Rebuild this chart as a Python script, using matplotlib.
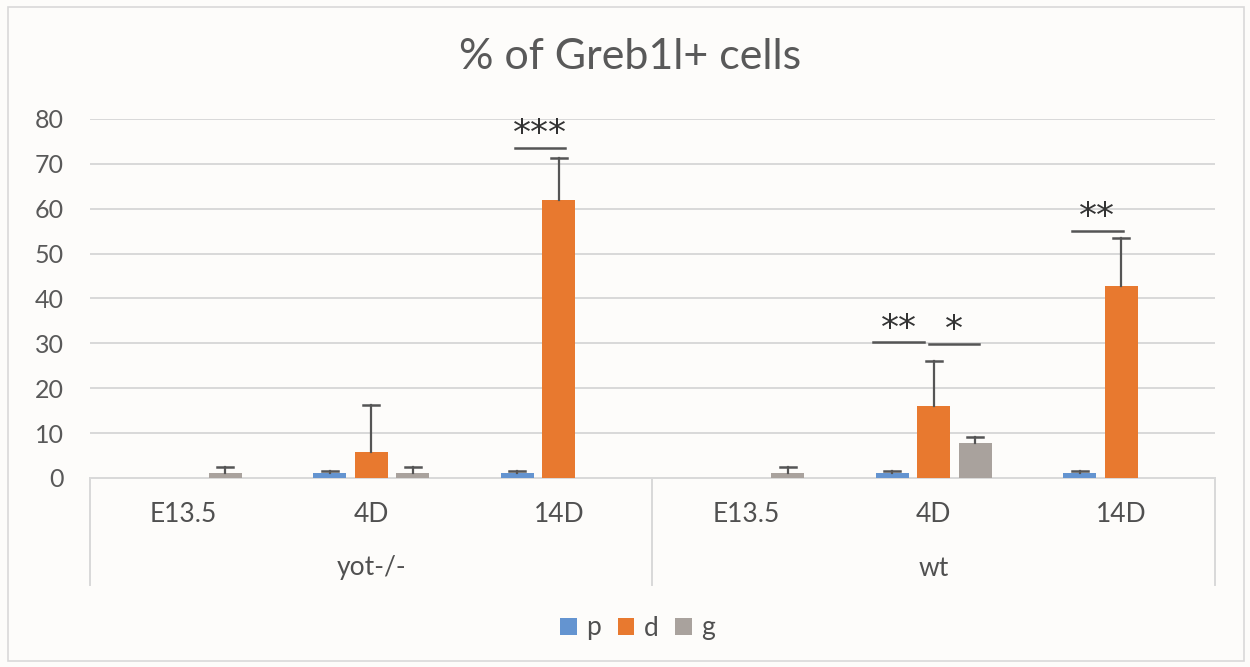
import numpy as np
import matplotlib.pyplot as plt
from matplotlib.patches import Rectangle

plt.rcParams['font.family'] = ['Lato', 'DejaVu Sans']

# data
groups = ["yot-/-", "wt"]
stages = ["E13.5", "4D", "14D", "E13.5", "4D", "14D"]
series = ["p", "d", "g"]
p_vals = [0, 1.0, 1.0, 0, 1.0, 1.0]
p_err = [0, 0.55, 0.55, 0, 0.55, 0.55]
d_vals = [0, 5.85, 62.0, 0, 16.1, 42.7]
d_err = [0, 10.5, 9.2, 0, 10.0, 10.7]
g_vals = [1.05, 1.05, 0, 1.05, 7.85, 0]
g_err = [1.35, 1.35, 0, 1.35, 1.35, 0]
colors = ["#6494D0", "#E8792F", "#A9A29D"]
# significance marks: category, x offset, line height, label
sig_cat = [2, 4, 4, 5]
sig_off = [-0.10, -0.187, 0.107, -0.128]
sig_y = [73.6, 30.2, 29.9, 55.1]
sig_lab = ["***", "**", "*", "**"]

x = np.arange(6)
w = 0.176
off = 0.221

fig = plt.figure(figsize=(12.5, 6.67), dpi=100)
bg = "#FDFCFA"
fig.patch.set_facecolor(bg)
fig.patches.append(Rectangle((8 / 1250, 6 / 667), 1236 / 1250, 654 / 667, transform=fig.transFigure,
                             fill=False, edgecolor="#D9D9D9", linewidth=1.2))
ax = fig.add_axes([0.072, 0.2834, 0.900, 0.5382])
ax.set_facecolor(bg)

vals = [p_vals, d_vals, g_vals]
errs = [p_err, d_err, g_err]
for i in range(3):
    xi = x + (i - 1) * off
    ax.bar(xi, vals[i], w, color=colors[i], label=series[i], zorder=3)
    for xv, v, e in zip(xi, vals[i], errs[i]):
        if e > 0:
            ax.plot([xv, xv], [v, v + e], color="#555555", lw=1.6, zorder=4)
            ax.plot([xv - 0.043, xv + 0.043], [v + e, v + e], color="#555555", lw=1.8, zorder=4)

for ci, o, yl, lab in zip(sig_cat, sig_off, sig_y, sig_lab):
    xc = x[ci] + o
    ax.plot([xc - 0.135, xc + 0.135], [yl, yl], color="#555555", lw=1.8, zorder=5)
    ax.text(xc, yl + 3.0, lab, ha="center", va="center", fontsize=26, color="#333333",
            family="DejaVu Sans", zorder=5)

ax.set_ylim(0, 80)
ax.set_xlim(-0.5, 5.5)
ax.set_yticks(range(0, 81, 10))
ax.tick_params(axis="y", length=0, labelsize=18, colors="#595959", pad=19)
ax.set_xticks([])
ax.grid(axis="y", color="#D9D9D9", lw=1.4, zorder=0)
for s in ["top", "right", "left"]:
    ax.spines[s].set_visible(False)
ax.spines["bottom"].set_color("#D9D9D9")
ax.spines["bottom"].set_linewidth(1.4)

# two-level category axis
for xi, s in zip(x, stages):
    fx = 0.072 + 0.9 * (xi + 0.5) / 6
    fig.text(fx, 1 - 515 / 667, s, ha="center", va="center", fontsize=19, color="#505050")
for gi, g in enumerate(groups):
    fx = 0.072 + 0.9 * (gi * 3 + 1.5) / 6
    fig.text(fx, 1 - 568 / 667, g, ha="center", va="center", fontsize=19, color="#505050")
for xs in [90, 652, 1215]:
    fig.add_artist(plt.Line2D([xs / 1250, xs / 1250], [1 - 478 / 667, 1 - 585 / 667],
                              color="#D9D9D9", lw=1.4))

fig.text(0.504, 1 - 57 / 667, "% of Greb1l+ cells", ha="center", va="center",
         fontsize=31, color="#595959")
fig.legend(loc="center", bbox_to_anchor=(0.51, 1 - 628 / 667), ncol=3, frameon=False,
           fontsize=19, handlelength=0.62, handleheight=0.62, handletextpad=0.35,
           columnspacing=0.65, labelcolor="#505050")

fig.savefig("out.png", dpi=100, facecolor=fig.get_facecolor())
